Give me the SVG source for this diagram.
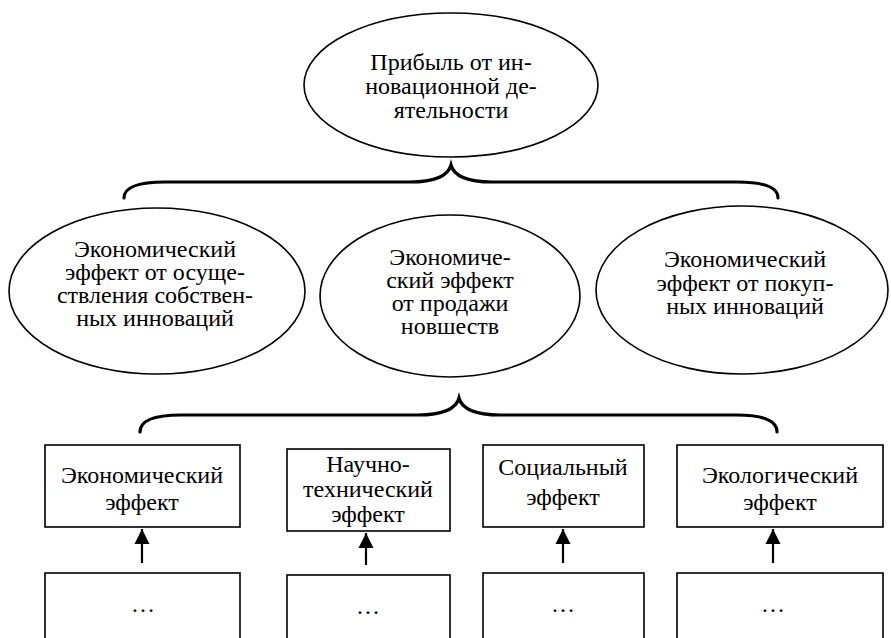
<svg xmlns="http://www.w3.org/2000/svg" width="891" height="638" viewBox="0 0 891 638">
<defs>
<style>
.shape{fill:#fff;stroke:#000;stroke-width:1.6}
text{font-family:'Liberation Serif','DejaVu Serif','Noto Serif',serif;font-size:24px;fill:#000;text-anchor:middle}
.brace{fill:none;stroke:#000;stroke-width:3.2;stroke-linecap:round}
.arr{stroke:#000;stroke-width:2.2;fill:none}
</style>
<marker id="ah" viewBox="0 0 10 10" refX="10" refY="5" markerWidth="7" markerHeight="7" markerUnits="strokeWidth" orient="auto">
<path d="M0,0 L10,5 L0,10 Z" fill="#000"/>
</marker>
</defs>
<rect width="891" height="638" fill="#fff"/>
<g id="top">
<ellipse class="shape" cx="451" cy="85" rx="147" ry="72"/>
<text x="451" y="70">Прибыль от ин-</text>
<text x="451" y="94">новационной де-</text>
<text x="451" y="118">ятельности</text>
</g>
<g id="own">
<ellipse class="shape" cx="157" cy="291" rx="148" ry="83"/>
<text x="155" y="257">Экономический</text>
<text x="155" y="280">эффект от осуще-</text>
<text x="155" y="303">ствления собствен-</text>
<text x="155" y="326">ных инноваций</text>
</g>
<g id="sale">
<ellipse class="shape" cx="450" cy="296" rx="130" ry="81"/>
<text x="450" y="265">Экономиче-</text>
<text x="450" y="288">ский эффект</text>
<text x="450" y="311">от продажи</text>
<text x="450" y="334">новшеств</text>
</g>
<g id="bought">
<ellipse class="shape" cx="742" cy="290" rx="146" ry="84"/>
<text x="745" y="267">Экономический</text>
<text x="745" y="291">эффект от покуп-</text>
<text x="745" y="314">ных инноваций</text>
</g>
<g id="econ">
<rect class="shape" x="45" y="445" width="195" height="82"/>
<text x="142" y="483">Экономический</text>
<text x="142" y="510">эффект</text>
</g>
<g id="sci">
<rect class="shape" x="287" y="449" width="163" height="82"/>
<text x="368" y="472">Научно-</text>
<text x="368" y="497">технический</text>
<text x="368" y="522">эффект</text>
</g>
<g id="soc">
<rect class="shape" x="483" y="445" width="161" height="82"/>
<text x="563" y="475">Социальный</text>
<text x="563" y="505">эффект</text>
</g>
<g id="eco">
<rect class="shape" x="677" y="445" width="206" height="82"/>
<text x="780" y="483">Экологический</text>
<text x="780" y="510">эффект</text>
</g>
<g id="b1">
<rect class="shape" x="45" y="573" width="195" height="90"/>
<text x="143" y="612">…</text>
</g>
<g id="b2">
<rect class="shape" x="287" y="575" width="163" height="90"/>
<text x="368" y="614">…</text>
</g>
<g id="b3">
<rect class="shape" x="483" y="573" width="161" height="90"/>
<text x="563" y="612">…</text>
</g>
<g id="b4">
<rect class="shape" x="677" y="573" width="206" height="90"/>
<text x="773" y="612">…</text>
</g>
<g id="connectors">
<path class="brace" d="M124,198 C124,188 135,182 165,182 L410,182 C435,182 448,176 451,165 C454,176 467,182 492,182 L737,182 C767,182 778,188 778,198"/>
<path class="brace" d="M140,432 C140,422 151,415 181,415 L418,415 C443,415 456,409 459,398 C462,409 475,415 500,415 L736,415 C766,415 777,422 777,432"/>
<line class="arr" x1="142" y1="563" x2="142" y2="529" marker-end="url(#ah)"/>
<line class="arr" x1="366" y1="565" x2="366" y2="533" marker-end="url(#ah)"/>
<line class="arr" x1="563" y1="563" x2="563" y2="529" marker-end="url(#ah)"/>
<line class="arr" x1="773" y1="563" x2="773" y2="529" marker-end="url(#ah)"/>
</g>
</svg>
